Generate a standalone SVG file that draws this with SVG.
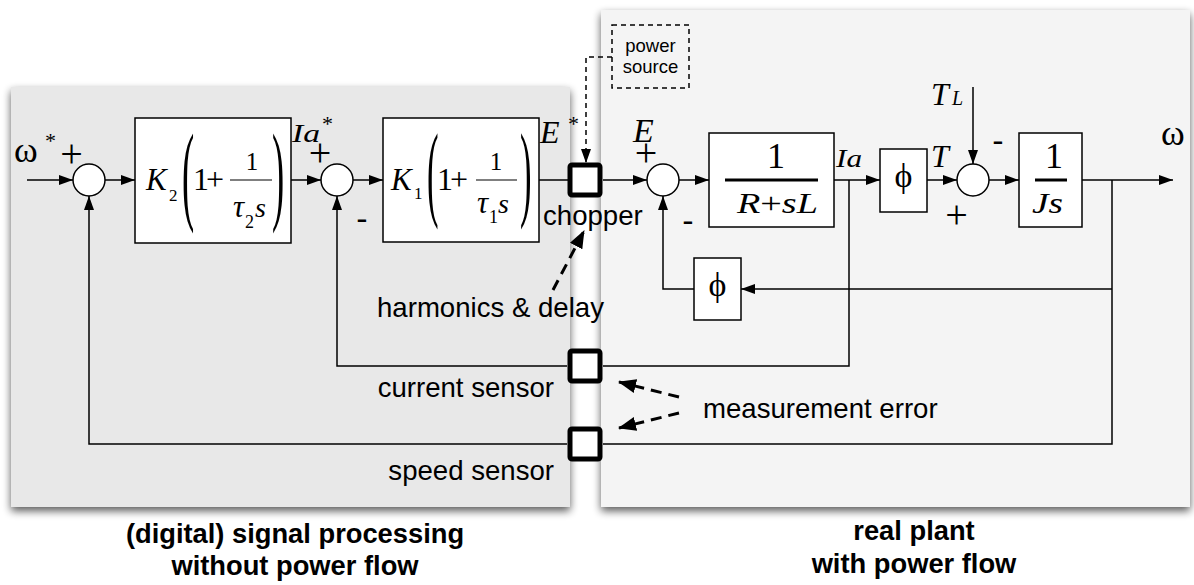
<svg xmlns="http://www.w3.org/2000/svg" width="1194" height="585" viewBox="0 0 1194 585">
<defs>
<filter id="sh" x="-5%" y="-5%" width="110%" height="115%">
  <feGaussianBlur in="SourceAlpha" stdDeviation="4"/>
  <feOffset dx="0" dy="4"/>
  <feComponentTransfer><feFuncA type="linear" slope="0.65"/></feComponentTransfer>
  <feMerge><feMergeNode/><feMergeNode in="SourceGraphic"/></feMerge>
</filter>
<marker id="ah" markerWidth="14" markerHeight="10" refX="14" refY="5" orient="auto" markerUnits="userSpaceOnUse">
  <path d="M0,0 L14,5 L0,10 z" fill="#000"/>
</marker>
<marker id="ahd" markerWidth="18" markerHeight="14" refX="17" refY="7" orient="auto" markerUnits="userSpaceOnUse">
  <path d="M0,0 L18,7 L0,14 z" fill="#000"/>
</marker>
<style>
.ln{fill:none;stroke:#000;stroke-width:1.5}
.bx{fill:#fff;stroke:#000;stroke-width:1.5}
.sq{fill:#fff;stroke:#000;stroke-width:5}
.m{font-family:"Liberation Serif","DejaVu Serif",serif;fill:#000}
.mi{font-family:"Liberation Serif","DejaVu Serif",serif;font-style:italic;fill:#000}
.s{font-family:"Liberation Sans",Arial,sans-serif;font-size:27.6px;fill:#000}
.b{font-family:"Liberation Sans",Arial,sans-serif;font-size:27.3px;font-weight:bold;fill:#000;text-anchor:middle}
.mn{font-family:"Liberation Sans",Arial,sans-serif;font-size:34px;fill:#000;text-anchor:middle}
.dl{fill:none;stroke:#000;stroke-width:3;stroke-dasharray:11 7}
.bar{stroke:#000;stroke-width:3}
.bar1{stroke:#000;stroke-width:1.2}
</style>
</defs>
<rect width="1194" height="585" fill="#fff"/>

<g id="panel-digital"><rect x="11" y="87" width="559" height="420" fill="#e8e8e8" filter="url(#sh)"/></g>
<g id="panel-plant"><rect x="601" y="10" width="589" height="497" fill="#f4f4f4" filter="url(#sh)"/></g>

<g id="connectors">
  <path class="ln" d="M27,180 H73" marker-end="url(#ah)"/>
  <path class="ln" d="M105,180 H135" marker-end="url(#ah)"/>
  <path class="ln" d="M291,180 H321" marker-end="url(#ah)"/>
  <path class="ln" d="M353,180 H383" marker-end="url(#ah)"/>
  <path class="ln" d="M539,180 H568"/>
  <path class="ln" d="M603,180 H647" marker-end="url(#ah)"/>
  <path class="ln" d="M679,180 H709" marker-end="url(#ah)"/>
  <path class="ln" d="M834,180 H880" marker-end="url(#ah)"/>
  <path class="ln" d="M927,180 H957" marker-end="url(#ah)"/>
  <path class="ln" d="M973,87 V164" marker-end="url(#ah)"/>
  <path class="ln" d="M989,180 H1019" marker-end="url(#ah)"/>
  <path class="ln" d="M1082,180 H1173" marker-end="url(#ah)"/>
  <path class="ln" d="M1112,180 V444 H603"/>
  <path class="ln" d="M567,444 H89 V196" marker-end="url(#ah)"/>
  <path class="ln" d="M1112,289 H741" marker-end="url(#ah)"/>
  <path class="ln" d="M694,289 H663 V196" marker-end="url(#ah)"/>
  <path class="ln" d="M849,180 V366 H603"/>
  <path class="ln" d="M567,366 H337 V196" marker-end="url(#ah)"/>
  <path d="M612,57 H586 V163" fill="none" stroke="#000" stroke-width="1.5" stroke-dasharray="5 4" marker-end="url(#ah)"/>
  <path class="dl" d="M553,290 L584,231" marker-end="url(#ahd)"/>
  <path class="dl" d="M679,397 L619,382" marker-end="url(#ahd)"/>
  <path class="dl" d="M679,413 L619,428" marker-end="url(#ahd)"/>
</g>

<g id="sum1"><circle class="bx" cx="89" cy="180" r="16"/></g>
<g id="sum2"><circle class="bx" cx="337" cy="180" r="16"/></g>
<g id="sum3"><circle class="bx" cx="663" cy="180" r="16"/></g>
<g id="sum4"><circle class="bx" cx="973" cy="180" r="16"/></g>

<g id="k2-block">
  <rect class="bx" x="135" y="118" width="156" height="125"/>
  <text class="mi" x="146" y="190" font-size="31">K</text>
  <text class="m" x="169" y="201" font-size="17">2</text>
  <text class="m" font-size="111" transform="translate(182,210) scale(0.33,1)">(</text>
  <text class="m" x="193" y="190" font-size="32">1<tspan dx="-3">+</tspan></text>
  <line class="bar1" x1="230" y1="180" x2="272" y2="180"/>
  <text class="m" x="252" y="170" font-size="25" text-anchor="middle">1</text>
  <text class="mi" x="233" y="217" font-size="31">τ</text>
  <text class="m" x="245" y="228" font-size="18">2</text>
  <text class="mi" x="255" y="217" font-size="28">s</text>
  <text class="m" font-size="111" transform="translate(272,210) scale(0.33,1)">)</text>
</g>

<g id="k1-block">
  <rect class="bx" x="383" y="118" width="156" height="124"/>
  <text class="mi" x="391" y="190" font-size="31">K</text>
  <text class="m" x="414" y="199" font-size="17">1</text>
  <text class="m" font-size="105" transform="translate(427,207) scale(0.33,1)">(</text>
  <text class="m" x="437" y="190" font-size="32">1<tspan dx="-3">+</tspan></text>
  <line class="bar1" x1="476" y1="180" x2="517" y2="180"/>
  <text class="m" x="496" y="170" font-size="25" text-anchor="middle">1</text>
  <text class="mi" x="477" y="213" font-size="31">τ</text>
  <text class="m" x="489" y="223" font-size="18">1</text>
  <text class="mi" x="498" y="213" font-size="28">s</text>
  <text class="m" font-size="105" transform="translate(520,207) scale(0.33,1)">)</text>
</g>

<g id="rl-block">
  <rect class="bx" x="709" y="133" width="125" height="94"/>
  <text class="m" x="776" y="168" font-size="36" text-anchor="middle">1</text>
  <line class="bar" x1="725" y1="180" x2="818" y2="180"/>
  <text class="mi" x="737" y="213" font-size="29" textLength="81" lengthAdjust="spacingAndGlyphs">R<tspan font-style="normal">+</tspan>sL</text>
</g>

<g id="phi-block"><rect class="bx" x="880" y="149" width="47" height="63"/><text class="m" x="903.5" y="187" font-size="34" text-anchor="middle">ϕ</text></g>

<g id="js-block">
  <rect class="bx" x="1019" y="133" width="63" height="94"/>
  <text class="m" x="1054" y="168" font-size="36" text-anchor="middle">1</text>
  <line class="bar" x1="1035" y1="180" x2="1067" y2="180"/>
  <text class="mi" x="1032" y="213" font-size="29" textLength="31" lengthAdjust="spacingAndGlyphs">Js</text>
</g>

<g id="phi-feedback"><rect class="bx" x="694" y="258" width="47" height="62"/><text class="m" x="717.5" y="296" font-size="34" text-anchor="middle">ϕ</text></g>

<g id="chopper"><rect class="sq" x="570" y="165" width="30" height="30" rx="2"/></g>
<g id="current-sensor"><rect class="sq" x="570" y="351" width="30" height="30" rx="2"/></g>
<g id="speed-sensor"><rect class="sq" x="570" y="429" width="30" height="30" rx="2"/></g>

<g id="power-source">
  <rect x="612" y="25" width="77" height="63" fill="none" stroke="#000" stroke-width="1.5" stroke-dasharray="5 4"/>
  <text x="650.5" y="52" font-family="Liberation Sans, Arial, sans-serif" font-size="18.5" text-anchor="middle">power</text>
  <text x="650.5" y="73" font-family="Liberation Sans, Arial, sans-serif" font-size="18.5" text-anchor="middle">source</text>
</g>

<g id="labels">
  <text class="m" x="14" y="162" font-size="36">ω</text>
  <text class="m" x="45" y="148" font-size="22">*</text>
  <text class="m" x="71.5" y="167" font-size="40" text-anchor="middle">+</text>
  <text class="mi" x="292" y="142" font-size="26" textLength="28" lengthAdjust="spacingAndGlyphs">Ia</text>
  <text class="m" x="322" y="131" font-size="22">*</text>
  <text class="m" x="320" y="166" font-size="40" text-anchor="middle">+</text>
  <text class="mn" x="362" y="230">-</text>
  <text class="mi" x="540" y="143" font-size="32">E</text>
  <text class="m" x="568" y="131" font-size="22">*</text>
  <text class="mi" x="633" y="142" font-size="34">E</text>
  <text class="m" x="646" y="166" font-size="40" text-anchor="middle">+</text>
  <text class="mn" x="688" y="232">-</text>
  <text class="mi" x="836" y="167" font-size="26" textLength="26" lengthAdjust="spacingAndGlyphs">Ia</text>
  <text class="mi" x="931" y="167" font-size="32">T</text>
  <text class="mi" x="931" y="105" font-size="32">T</text>
  <text class="mi" x="952" y="105" font-size="20">L</text>
  <text class="mn" x="998" y="152">-</text>
  <text class="m" x="956.5" y="228" font-size="40" text-anchor="middle">+</text>
  <text class="m" x="1161" y="145" font-size="36">ω</text>
  <text class="s" x="543" y="225">chopper</text>
  <text class="s" x="377" y="317">harmonics &amp; delay</text>
  <text class="s" x="554" y="397" text-anchor="end">current sensor</text>
  <text class="s" x="554" y="480" text-anchor="end">speed sensor</text>
  <text class="s" x="703" y="418">measurement error</text>
  <text class="b" x="295" y="543">(digital) signal processing</text>
  <text class="b" x="295" y="575">without power flow</text>
  <text class="b" x="914" y="540">real plant</text>
  <text class="b" x="914" y="573">with power flow</text>
</g>
</svg>
